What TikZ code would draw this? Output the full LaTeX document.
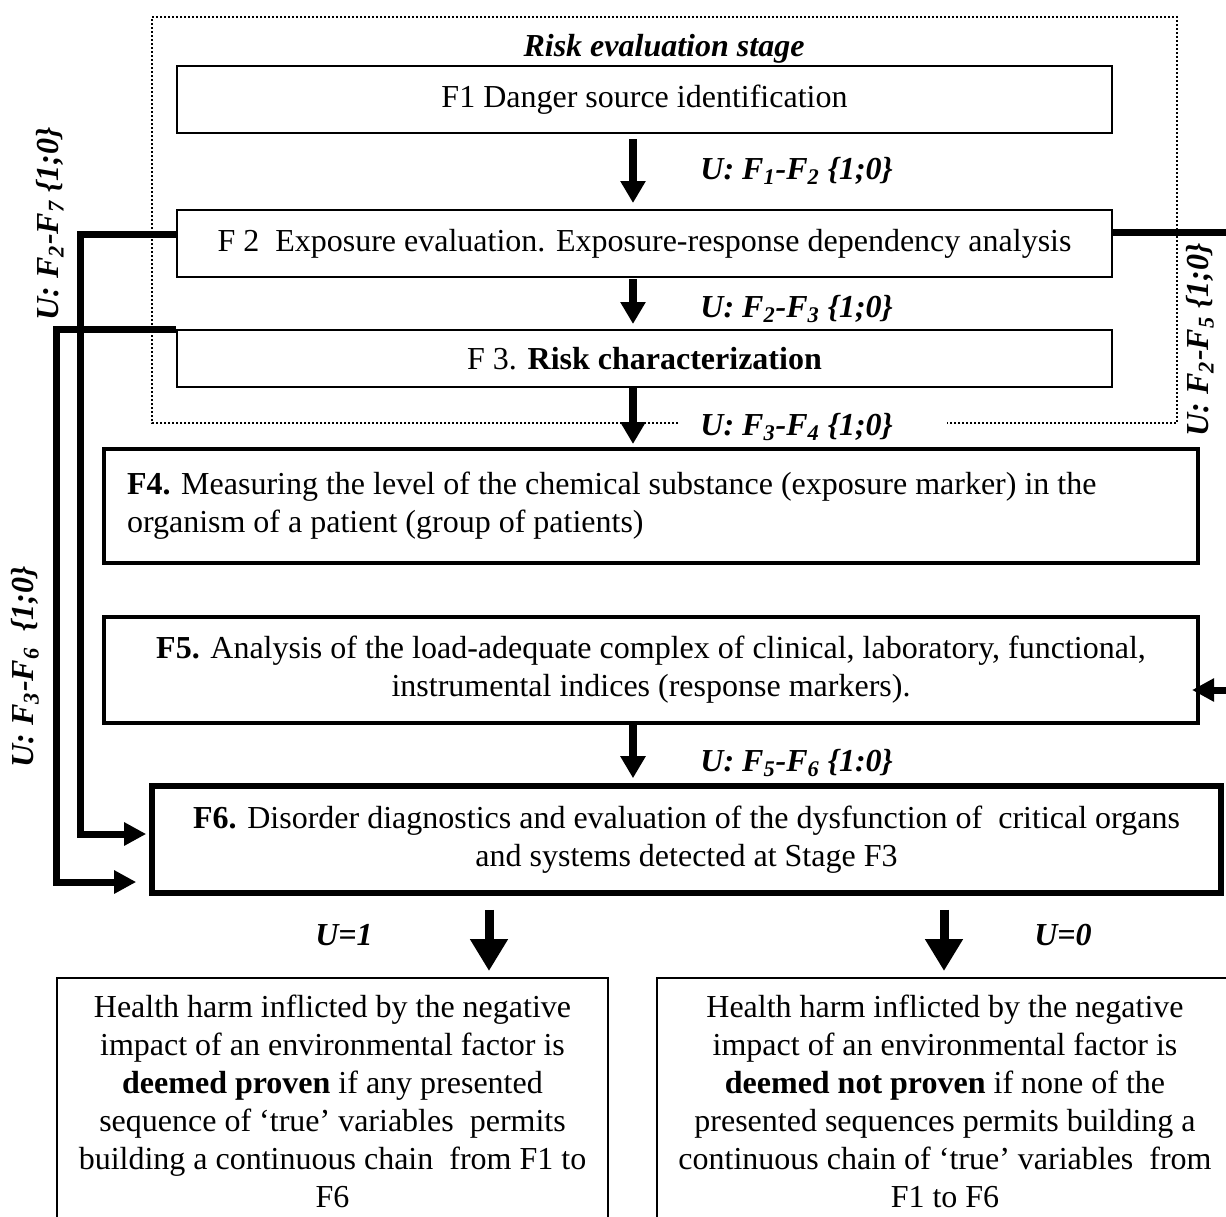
\documentclass[tikz,border=0pt]{standalone}
\usepackage{fontspec}
\setmainfont{Liberation Serif}
\usetikzlibrary{arrows.meta,calc}
\begin{document}
\begin{tikzpicture}[x=0.5pt,y=-0.5pt,
  every node/.style={font=\fontsize{16}{19}\selectfont, inner sep=0pt},
  thinbox/.style={draw, line width=1pt, align=center},
  midbox/.style={draw, line width=2pt},
  lbl/.style={font=\fontsize{16}{19}\selectfont\bfseries\itshape, anchor=west},
  rlbl/.style={font=\fontsize{16}{19}\selectfont\bfseries\itshape, rotate=90},
  bilbl/.style={font=\fontsize{16}{19}\selectfont\bfseries\itshape},
  arr/.style={line width=4pt, -{Triangle[length=11pt,width=12pt]}},
  bigarr/.style={line width=4.5pt, -{Triangle[length=16pt,width=18pt]}},
  connarr/.style={line width=3.5pt, -{Triangle[length=11pt,width=11pt]}},
  dotbox/.style={line width=1pt, dash pattern=on 1pt off 1pt}
]
\clip (0,0) rectangle (1226,1216);

% dotted stage frame
\draw[dotbox] (678,423) -| (152,17) -| (1177,423) -- (947,423);
\node[bilbl] (title) at (664,49) {Risk evaluation stage};

% boxes
\node[thinbox, minimum width=467.5pt, minimum height=33.5pt] (F1) at (644.5,99.5) {F1 Danger source identification};
\node[thinbox, minimum width=467.5pt, minimum height=33.5pt] (F2) at (644.5,243.5) {F 2\ \ Exposure evaluation. Exposure-response dependency analysis};
\node[thinbox, minimum width=467.5pt, minimum height=28.5pt] (F3) at (644.5,358.5) {F 3. \textbf{Risk characterization}};
\node[midbox, minimum width=547pt, minimum height=57pt, text width=524pt, align=flush left] (F4) at (651,506) {\textbf{F4.} Measuring the level of the chemical substance (exposure marker) in the\\ organism of a patient (group of patients)};
\node[midbox, minimum width=547pt, minimum height=53pt, align=center] (F5) at (651,670) {\textbf{F5.} Analysis of the load-adequate complex of clinical, laboratory, functional,\\ instrumental indices (response markers).};
\node[draw, line width=2.8pt, minimum width=534.5pt, minimum height=53.5pt, align=center] (F6) at (686.5,839.5) {\textbf{F6.} Disorder diagnostics and evaluation of the dysfunction of\ \ critical organs\\ and systems detected at Stage F3};
\node[thinbox, minimum width=275.5pt, minimum height=123.5pt] (B1) at (332.5,1101.5) {Health harm inflicted by the negative\\ impact of an environmental factor is\\ \textbf{deemed proven} if any presented\\ sequence of `true' variables\ \ permits\\ building a continuous chain\ \ from F1 to\\ F6};
\node[thinbox, minimum width=288pt, minimum height=123.5pt] (B2) at (945,1101.5) {Health harm inflicted by the negative\\ impact of an environmental factor is\\ \textbf{deemed not proven} if none of the\\ presented sequences permits building a\\ continuous chain of `true' variables\ \ from\\ F1 to F6};

% vertical arrows
\coordinate (ax) at (633,0);
\draw[arr] ($(F1.south -| ax)+(0,5)$) -- ($(F2.north -| ax)+(0,-6)$);
\draw[arr] ($(F2.south -| ax)+(0,1)$) -- ($(F3.north -| ax)+(0,-5)$);
\draw[arr] (F3.south -| ax) -- ($(F4.north -| ax)+(0,-3)$);
\draw[arr] (F5.south -| ax) -- ($(F6.north -| ax)+(0,-5)$);
\coordinate (bl) at (489,0);
\coordinate (br) at (944,0);
\draw[bigarr] ($(F6.south -| bl)+(0,14)$) -- ($(B1.north -| bl)+(0,-6)$);
\draw[bigarr] ($(F6.south -| br)+(0,14)$) -- ($(B2.north -| br)+(0,-6)$);

% labels
\node[lbl] (u12) at (700,171) {U: F\textsubscript{1}-F\textsubscript{2} \{1;0\}};
\node[lbl] (u23) at (700,309) {U: F\textsubscript{2}-F\textsubscript{3} \{1;0\}};
\node[lbl] (u34) at (700,427) {U: F\textsubscript{3}-F\textsubscript{4} \{1;0\}};
\node[lbl] (u56) at (700,763) {U: F\textsubscript{5}-F\textsubscript{6} \{1:0\}};
\node[rlbl] (u27) at (50,224) {U: F\textsubscript{2}-F\textsubscript{7} \{1;0\}};
\node[rlbl] (u36) at (25,667) {U: F\textsubscript{3}-F\textsubscript{6}\ \ \{1;0\}};
\node[rlbl] (u25) at (1200,340) {U: F\textsubscript{2}-F\textsubscript{5} \{1;0\}};
\node[bilbl] (uone) at (344,935) {U=1};
\node[bilbl] (uzero) at (1063,935) {U=0};

% side connectors
\coordinate (l1) at (80,234);
\coordinate (l1b) at (80,834);
\draw[connarr] (F2.west |- l1) -- (l1) -- (l1b) -- ($(F6.west |- l1b)+(-3,0)$);
\coordinate (l2) at (56,329);
\coordinate (l2b) at (56,882);
\draw[connarr] (F3.north west) -- (l2) -- (l2b) -- ($(F6.west |- l2b)+(-13,0)$);
\coordinate (r1) at (1232,232);
\coordinate (r1b) at (1232,690);
\draw[connarr] (F2.east |- r1) -- (r1) -- (r1b) -- ($(F5.east |- r1b)+(-8,0)$);
\end{tikzpicture}
\end{document}
